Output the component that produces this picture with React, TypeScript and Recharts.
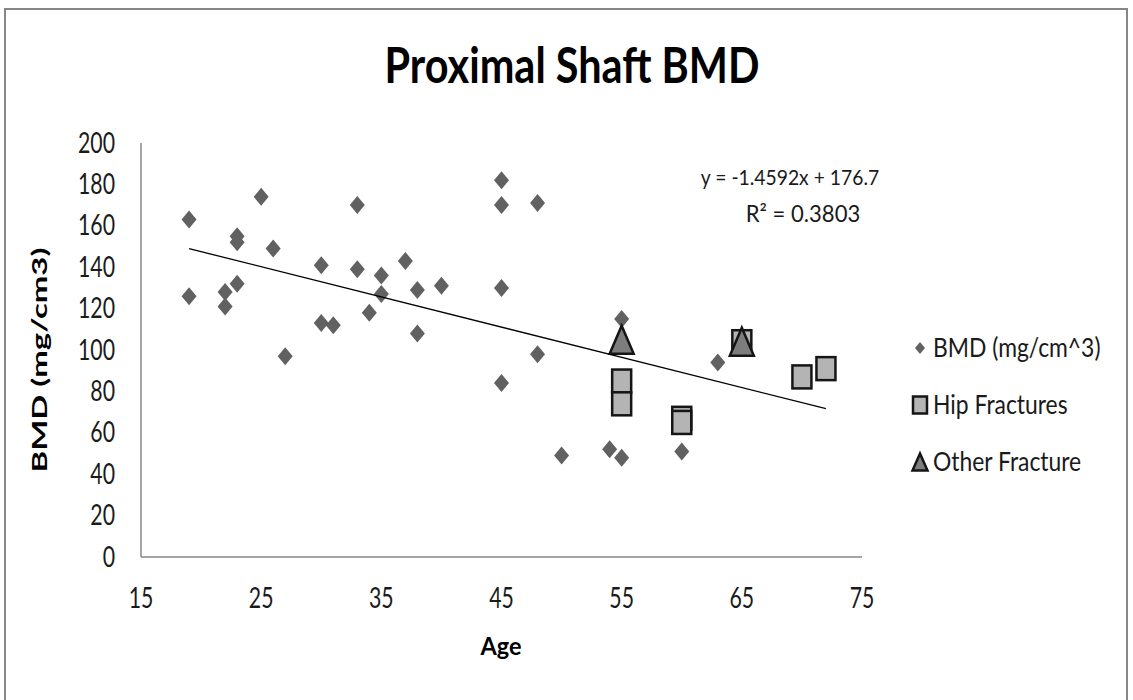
import React from 'react';
import { ScatterChart, Scatter, XAxis, YAxis, Legend, Label } from 'recharts';

// values
const bmdAges = [19, 19, 22, 22, 23, 23, 23, 25, 26, 27, 30, 30, 31, 33, 33, 34, 35, 35, 37, 38, 38, 40, 45, 45, 45, 45, 48, 48, 50, 54, 55, 55, 60, 63];
const bmdValues = [163, 126, 128, 121, 155, 152, 132, 174, 149, 97, 141, 113, 112, 170, 139, 118, 136, 127, 143, 129, 108, 131, 182, 170, 130, 84, 171, 98, 49, 52, 115, 48, 51, 94];

const hipAges = [55, 55, 60, 60, 65, 70, 72];
const hipValues = [85, 74, 67, 65, 104, 87, 91];

const otherAges = [55, 65];
const otherValues = [105, 104];

const xTicks = [15, 25, 35, 45, 55, 65, 75];
const yTicks = [0, 20, 40, 60, 80, 100, 120, 140, 160, 180, 200];

// linear trendline, as printed on the chart
const trendSlope = -1.4592;
const trendIntercept = 176.7;
const trendAges = [19, 72];
const trendLabel = ['y = -1.4592x + 176.7', 'R\u00b2 = 0.3803'];

const seriesNames = ['BMD (mg/cm^3)', 'Hip Fractures', 'Other Fracture'];

const bmdData = bmdAges.map((age, i) => ({ age, bmd: bmdValues[i] }));
const hipData = hipAges.map((age, i) => ({ age, bmd: hipValues[i] }));
const otherData = otherAges.map((age, i) => ({ age, bmd: otherValues[i] }));
const trendData = trendAges.map((age) => ({ age, bmd: trendSlope * age + trendIntercept }));

const FONT = "Lato, 'Open Sans', sans-serif";
const TEXT = '#1a1a1a';

// the original chart is stretched vertically, so text is squeezed sideways
const Squeezed = ({ x, y, sx, children, ...rest }: any) => (
  <text transform={`translate(${x},${y}) scale(${sx},1)`} fontFamily={FONT} fill={TEXT} {...rest}>
    {children}
  </text>
);

const YTick = (p: any) => (
  <Squeezed x={p.x} y={p.y} sx={0.76} textAnchor="end" dy="0.34em" fontSize={28}>
    {p.payload.value}
  </Squeezed>
);

const XTick = (p: any) => (
  <Squeezed x={p.x} y={p.y} sx={0.76} textAnchor="middle" dy="0.71em" fontSize={28}>
    {p.payload.value}
  </Squeezed>
);

const Diamond = ({ cx, cy, w = 15, h = 18 }: any) => (
  <polygon
    points={`${cx},${cy - h / 2} ${cx + w / 2},${cy} ${cx},${cy + h / 2} ${cx - w / 2},${cy}`}
    fill="#616161"
  />
);

const Square = ({ cx, cy, w = 19, h = 23 }: any) => (
  <rect x={cx - w / 2} y={cy - h / 2} width={w} height={h} fill="#b4b4b4" stroke="#151515" strokeWidth={2.5} />
);

const Triangle = ({ cx, cy, w = 24, h = 28 }: any) => (
  <polygon
    points={`${cx},${cy - h / 2} ${cx + w / 2},${cy + h / 2} ${cx - w / 2},${cy + h / 2}`}
    fill="#7d7d7d"
    stroke="#151515"
    strokeWidth={2.5}
  />
);

const legendIcons: Record<string, (cx: number, cy: number) => React.ReactNode> = {
  [seriesNames[0]]: (cx, cy) => <Diamond cx={cx} cy={cy} w={10} h={12} />,
  [seriesNames[1]]: (cx, cy) => <Square cx={cx} cy={cy} w={14} h={17} />,
  [seriesNames[2]]: (cx, cy) => <Triangle cx={cx} cy={cy} w={15} h={17} />,
};

const renderLegend = (props: any) => {
  const items = (props.payload || []).filter((p: any) => legendIcons[p.value]);
  return (
    <svg width={230} height={170}>
      {items.map((item: any, i: number) => {
        const cy = 24 + i * 57;
        return (
          <g key={item.value}>
            {legendIcons[item.value](20, cy)}
            <Squeezed x={33} y={cy + 9} sx={0.88} fontSize={26}>
              {item.value}
            </Squeezed>
          </g>
        );
      })}
    </svg>
  );
};

export default function App() {
  return (
    <div style={{ position: 'absolute', left: 0, top: 0, width: 1133, height: 700, background: '#fff', overflow: 'hidden' }}>
      <div
        style={{
          position: 'absolute',
          left: 4,
          top: 8,
          width: 1124,
          height: 720,
          border: '2px solid #878787',
          boxSizing: 'border-box',
        }}
      />
      <div style={{ position: 'absolute', left: 0, top: 0 }}>
        <ScatterChart width={1133} height={700} margin={{ top: 143, right: 271, bottom: 83, left: 81 }}>
          <text x={572} y={83} textAnchor="middle" fontFamily={FONT} fontSize={50} fontWeight="bold" fill="#000" textLength={375} lengthAdjust="spacingAndGlyphs">
            Proximal Shaft BMD
          </text>
          <XAxis
            dataKey="age"
            type="number"
            domain={[15, 75]}
            ticks={xTicks}
            height={60}
            axisLine={{ stroke: '#878787', strokeWidth: 1.5 }}
            tickLine={false}
            tickSize={0}
            tickMargin={31}
            tick={XTick}
          >
            <Label
              content={() => (
                <text x={501} y={655} textAnchor="middle" fontFamily={FONT} fontSize={25} fontWeight="bold" fill="#000" textLength={41} lengthAdjust="spacingAndGlyphs">
                  Age
                </text>
              )}
            />
          </XAxis>
          <YAxis
            dataKey="bmd"
            type="number"
            domain={[0, 200]}
            ticks={yTicks}
            width={60}
            axisLine={{ stroke: '#878787', strokeWidth: 1.5 }}
            tickLine={false}
            tickSize={0}
            tickMargin={26}
            tick={YTick}
          >
            <Label
              content={() => (
                <text
                  x={38}
                  y={360}
                  transform="rotate(-90, 38, 360)"
                  textAnchor="middle"
                  dominantBaseline="central"
                  fontFamily={FONT}
                  fontSize={21}
                  fontWeight="bold"
                  fill="#000"
                  textLength={225}
                  lengthAdjust="spacingAndGlyphs"
                >
                  BMD (mg/cm3)
                </text>
              )}
            />
          </YAxis>
          <Scatter name={seriesNames[0]} data={bmdData} shape={(p: any) => <Diamond cx={p.cx} cy={p.cy} />} isAnimationActive={false} />
          <Scatter name={seriesNames[1]} data={hipData} shape={(p: any) => <Square cx={p.cx} cy={p.cy} />} isAnimationActive={false} />
          <Scatter name={seriesNames[2]} data={otherData} shape={(p: any) => <Triangle cx={p.cx} cy={p.cy} />} isAnimationActive={false} />
          <Scatter
            name="trend"
            data={trendData}
            line={{ stroke: '#000', strokeWidth: 1.3 }}
            lineType="joint"
            shape={() => <g />}
            legendType="none"
            isAnimationActive={false}
          />
          <Squeezed x={790} y={185} sx={0.92} textAnchor="middle" fontSize={21}>
            {trendLabel[0]}
          </Squeezed>
          <Squeezed x={803} y={222} sx={0.96} textAnchor="middle" fontSize={23}>
            {trendLabel[1]}
          </Squeezed>
          <Legend
            layout="vertical"
            align="center"
            verticalAlign="middle"
            content={renderLegend}
            wrapperStyle={{ left: 900, top: 324, width: 230, height: 170 }}
          />
        </ScatterChart>
      </div>
    </div>
  );
}
